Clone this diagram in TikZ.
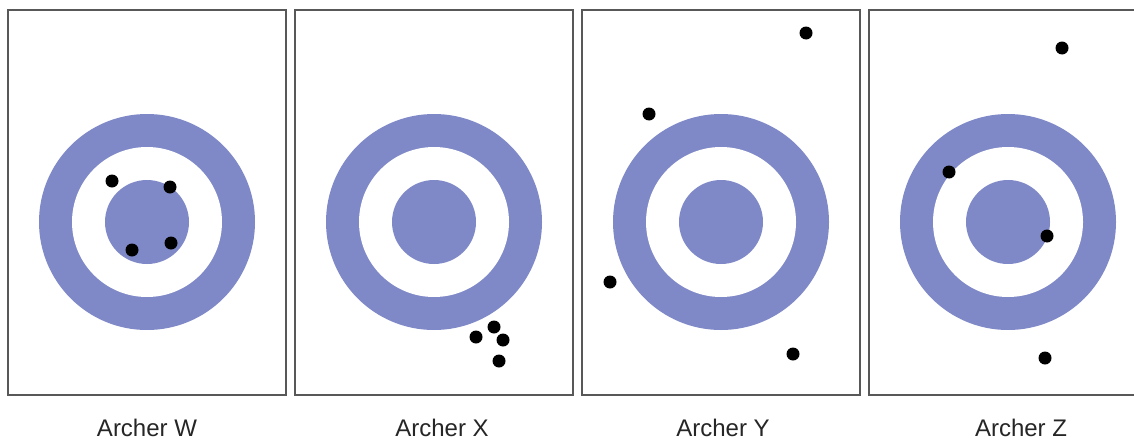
\documentclass[tikz,border=0pt]{standalone}
\usepackage{fontspec}
\setmainfont{Liberation Sans}
\usetikzlibrary{positioning}
\definecolor{targetblue}{RGB}{127,137,200}
\definecolor{framegray}{RGB}{88,88,88}
\tikzset{
	panel/.style = {draw=framegray, line width=1pt},
	ring/.style = {fill=targetblue},
	gap/.style = {fill=white},
	hit/.style = {fill=black},
	caption/.style = {anchor=base, inner sep=0pt, font=\fontsize{12}{14}\selectfont, text=black!85}
}

\begin{document}
\begin{tikzpicture}[x=0.5pt, y=-0.5pt]
		
		% canvas
		\clip (0,0) rectangle (1134,439);
		\fill[white] (0,0) rectangle (1134,439);
		
		% Panels: frame, target and caption
		\foreach \cx/\lx/\lbl in {147/147/W, 434/442/X, 721/723/Y, 1008/1021/Z} {
			\draw[panel] (\cx-139,10) rectangle (\cx+139,395);
			\fill[ring] (\cx,222) circle (108);
			\fill[gap] (\cx,222) circle (75);
			\fill[ring] (\cx,222) circle (42);
			\node[caption] (archer\lbl) at (\lx,436) {Archer \lbl};
		}
		
		% Hits: W
		\foreach \hx/\hy in {112/181, 170/187, 132/250, 171/243}
			\fill[hit] (\hx,\hy) circle (6.5);
		
		% Hits: X
		\foreach \hx/\hy in {476/337, 494/327, 503/340, 499/361}
			\fill[hit] (\hx,\hy) circle (6.5);
		
		% Hits: Y
		\foreach \hx/\hy in {806/33, 649/114, 610/282, 793/354}
			\fill[hit] (\hx,\hy) circle (6.5);
		
		% Hits: Z
		\foreach \hx/\hy in {1062/48, 949/172, 1047/236, 1045/358}
			\fill[hit] (\hx,\hy) circle (6.5);
		
	\end{tikzpicture}
\end{document}
